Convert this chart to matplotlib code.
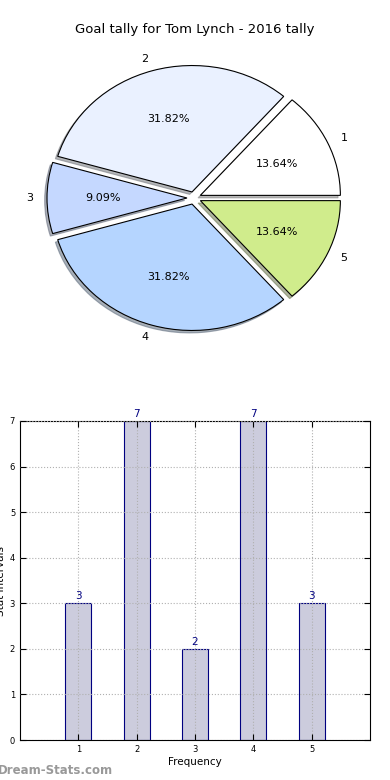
import matplotlib
matplotlib.use('Agg')
import matplotlib.pyplot as plt

# dados
categorias = ["1", "2", "3", "4", "5"]
golos = [3, 7, 2, 7, 3]
cores_pie = ["#ffffff", "#eaf1ff", "#c5d8ff", "#b5d5ff", "#d0ec8c"]
ticks_y = [0, 1, 2, 3, 4, 5, 6, 7]

fig = plt.figure(figsize=(3.9, 7.8), dpi=100)
fig.text(0.5, 1 - 30 / 780, "Goal tally for Tom Lynch - 2016 tally",
         ha="center", va="center", fontsize=9.5)

# --- pie (eliptica como no original: eixos sem aspect igual) ---
H = 316 / 780
W = 350 / 390
cx, cy = 194 / 390, 1 - 198 / 780
ax1 = fig.add_axes([cx - W / 2, cy - H / 2, W, H])
ax1.pie(golos, labels=categorias, colors=cores_pie, explode=[0.05] * 5,
        autopct="%1.2f%%", shadow={"ox": -0.012, "oy": -0.014, "shade": 0.55},
        startangle=0,
        wedgeprops=dict(edgecolor="black", linewidth=0.8),
        textprops=dict(fontsize=8))
ax1.set_xlim(-1.25, 1.25)
ax1.set_ylim(-1.25, 1.25)
ax1.set_aspect("auto")
ax1.axis("off")

# --- barras ---
ax2 = fig.add_axes([20 / 390, 1 - 740 / 780, 350 / 390, 319 / 780])
x = list(range(1, len(golos) + 1))
barras = ax2.bar(x, golos, width=0.45, color="#ccccdd", edgecolor="navy",
                 linewidth=0.8, zorder=1)
for xi, v in zip(x, golos):
    ax2.text(xi, v + 0.05, str(v), ha="center", va="bottom",
             color="navy", fontsize=7.5)
ax2.set_xlim(0, 6)
ax2.set_ylim(0, 7)
ax2.set_xticks(x)
ax2.set_xticklabels(categorias)
ax2.set_yticks(ticks_y)
ax2.tick_params(direction="in", labelsize=6, length=4, top=True, right=True)
ax2.grid(True, linestyle=":", color="#b0b0b0", linewidth=0.8, zorder=2)
ax2.set_axisbelow(False)
ax2.set_xlabel("Frequency", fontsize=7.5, labelpad=2)
ax2.set_ylabel("Stat Intervals", fontsize=7.5, labelpad=3)

fig.text(-2 / 390, 1 - 771 / 780, "Dream-Stats.com", ha="left", va="center",
         fontsize=8.5, color="#999999", fontweight="bold")

fig.savefig("out.png", dpi=100)
